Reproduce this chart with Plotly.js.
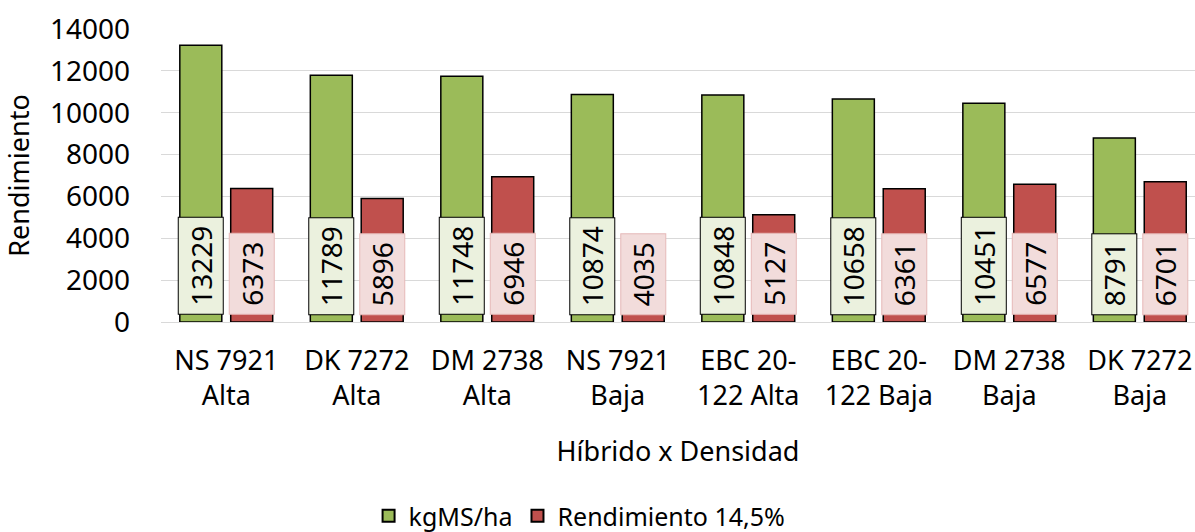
<!DOCTYPE html>
<html>
<head>
<meta charset="utf-8">
<script src="https://cdn.plot.ly/plotly-3.0.1.min.js"></script>
<style>html,body{margin:0;padding:0;background:#fff}#chart{width:1195px;height:532px}</style>
</head>
<body>
<div id="chart"></div>
<script>
const categories = ["NS 7921<br>Alta","DK 7272<br>Alta","DM 2738<br>Alta","NS 7921<br>Baja","EBC 20-<br>122 Alta","EBC 20-<br>122 Baja","DM 2738<br>Baja","DK 7272<br>Baja"];
const kgMS = [13229, 11789, 11748, 10874, 10848, 10658, 10451, 8791];
const rend145 = [6373, 5896, 6946, 4035, 5127, 6361, 6577, 6701];
const seriesNames = ["kgMS/ha", "Rendimiento 14,5%"];

const FONT = "Noto Sans, Open Sans, sans-serif";
const traces = [
  {type:"bar", name:seriesNames[0], x:categories, y:kgMS,
   marker:{color:"#9BBB59", line:{color:"#000", width:1.5}}, hoverinfo:"none"},
  {type:"bar", name:seriesNames[1], x:categories, y:rend145,
   marker:{color:"#C0504D", line:{color:"#000", width:1.5}}, hoverinfo:"none"}
];

function label(cat, val, shift, bg, border){
  const s = String(val);
  return {x:cat, y:0, xref:"x", yref:"y", text:s, showarrow:false,
    textangle:-90, xanchor:"center", yanchor:"bottom", xshift:shift, yshift:7,
    width:16*s.length+16, height:44, borderpad:0, borderwidth:1,
    bgcolor:bg, bordercolor:border, font:{family:FONT, size:28, color:"#000"}};
}
const annotations = [];
categories.forEach((c,i)=>{
  annotations.push(label(c, kgMS[i], -25.5, "#EBF1DE", "#000"));
  annotations.push(label(c, rend145[i], 25.5, "#F2DCDB", "#E6B9B8"));
});

const layout = {
  width:1195, height:532,
  margin:{l:161, r:0, t:29, b:210},
  paper_bgcolor:"#fff", plot_bgcolor:"#fff",
  font:{family:FONT, size:27, color:"#000"},
  barmode:"group", bargap:0.22, bargroupgap:0.175,
  xaxis:{type:"category", range:[-0.5, 7.423], showgrid:false, zeroline:false,
    showline:false, ticks:"", tickfont:{size:27}, ticklabelstandoff:20,
    title:{text:"Híbrido x Densidad", font:{size:27}, standoff:30}, automargin:false},
  yaxis:{range:[0,14000], tickvals:[0,2000,4000,6000,8000,10000,12000,14000],
    ticktext:["0","2000","4000","6000","8000","10000","12000","14000"],
    showgrid:true, gridcolor:"#D9D9D9", gridwidth:1, zeroline:true, zerolinecolor:"#D9D9D9", zerolinewidth:1,
    showline:false, ticks:"", tickfont:{size:28}, ticklabelstandoff:30,
    title:{text:"Rendimiento", font:{size:27}, standoff:14}, automargin:false},
  legend:{orientation:"h", xref:"container", yref:"container", x:0.485, y:0.03,
    xanchor:"center", yanchor:"middle", font:{size:25}, itemsizing:"constant"},
  annotations:annotations,
  showlegend:true
};
Plotly.newPlot("chart", traces, layout, {displayModeBar:false, staticPlot:true});
</script>
</body>
</html>
